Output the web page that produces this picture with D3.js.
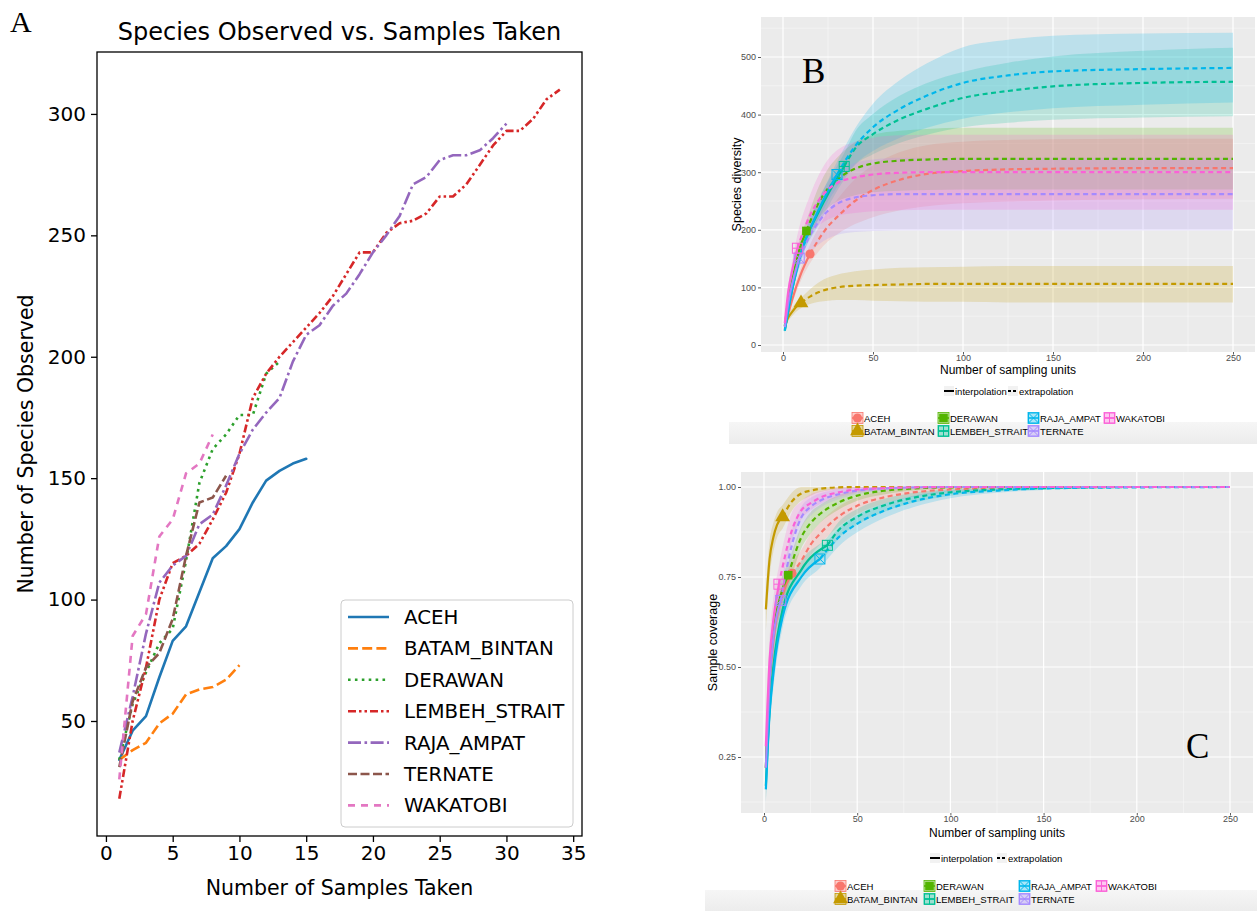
<!DOCTYPE html>
<html>
<head>
<meta charset="utf-8">
<script src="https://cdn.jsdelivr.net/npm/d3@7"></script>
<style>
  body { margin: 0; background: #fff; }
  svg { display: block; }
</style>
</head>
<body>
<svg id="fig" width="1257" height="911"></svg>
<script>
// ---------------- data ----------------
const sites = ['ACEH', 'BATAM_BINTAN', 'DERAWAN', 'LEMBEH_STRAIT', 'RAJA_AMPAT', 'TERNATE', 'WAKATOBI'];

// panel A: species observed after 1..k samples
const obsAceh = [34, 46, 52, 68, 83, 89, 103, 117, 122, 129, 140, 149, 153, 156, 158];
const obsBatam = [34, 38, 41, 49, 53, 61, 63, 64, 67, 73];
const obsDerawan = [34, 57, 70, 82, 88, 116, 148, 162, 168, 176, 176, 193, 198];
const obsLembeh = [18, 50, 72, 100, 115, 118, 123, 133, 144, 160, 183, 193, 200, 206, 212, 218, 225, 234, 243, 243,
                   251, 255, 256, 259, 266, 266, 271, 279, 287, 293, 293, 298, 306, 310];
const obsRaja = [37, 60, 86, 107, 114, 118, 131, 135, 147, 160, 170, 177, 183, 198, 209, 213, 221, 226, 234, 243,
                 250, 258, 271, 274, 281, 283, 283, 285, 290, 296];
const obsTernate = [31, 58, 72, 78, 92, 118, 140, 142, 151];
const obsWakatobi = [26, 85, 94, 126, 133, 152, 156, 168];
const observed = [obsAceh, obsBatam, obsDerawan, obsLembeh, obsRaja, obsTernate, obsWakatobi];
const xTicksA = [0, 5, 10, 15, 20, 25, 30, 35];
const yTicksA = [50, 100, 150, 200, 250, 300];

// panels B and C: reference sample size and the sampling units read per site
const refSize = [15, 10, 13, 34, 30, 9, 8];
const unitsX = [
  [1, 3, 5, 10, 15, 20, 25, 30, 40, 50, 65, 80, 100, 125, 150, 200, 250],
  [1, 3, 5, 7, 10, 15, 20, 25, 30, 40, 50, 65, 80, 100, 125, 150, 200, 250],
  [1, 3, 5, 9, 13, 20, 25, 30, 40, 50, 65, 80, 100, 125, 150, 200, 250],
  [1, 3, 5, 10, 20, 34, 40, 50, 65, 80, 100, 125, 150, 200, 250],
  [1, 3, 5, 10, 20, 30, 40, 50, 65, 80, 100, 125, 150, 200, 250],
  [1, 3, 5, 9, 15, 20, 25, 30, 40, 50, 65, 80, 100, 125, 150, 200, 250],
  [1, 3, 5, 8, 15, 20, 25, 30, 40, 50, 65, 80, 100, 125, 150, 200, 250]
];
// species diversity (B)
const divEst = [
  [28, 55, 78, 124, 158, 184, 206, 222, 250, 269, 287, 297, 302, 305, 306, 307, 307],
  [33, 48, 57, 65, 73, 84, 92, 97, 100, 103, 104, 105, 106, 106, 106, 106, 106, 106],
  [33, 80, 110, 165, 198, 248, 272, 287, 306, 315, 320, 322, 323, 323, 323, 323, 323],
  [25, 62, 95, 160, 232, 310, 341, 366, 392, 410, 429, 441, 449, 455, 457],
  [25, 62, 95, 158, 236, 296, 345, 378, 410, 433, 455, 468, 475, 479, 481],
  [31, 75, 105, 151, 190, 215, 233, 245, 256, 260, 262, 262, 262, 262, 262, 262, 262],
  [38, 95, 128, 168, 225, 252, 270, 281, 291, 296, 299, 300, 300, 300, 300, 300, 300]
];
const divLo = [
  [24, 48, 70, 112, 142, 163, 180, 192, 210, 222, 234, 241, 246, 249, 251, 253, 254],
  [29, 42, 50, 57, 64, 71, 75, 77, 78, 78, 77, 76, 75, 75, 74, 74, 74, 74],
  [29, 72, 99, 150, 180, 220, 238, 249, 260, 265, 268, 269, 270, 270, 270, 270, 270],
  [21, 55, 86, 147, 210, 287, 312, 331, 351, 365, 378, 386, 391, 395, 397],
  [21, 55, 86, 145, 220, 274, 314, 337, 360, 377, 393, 404, 411, 417, 421],
  [27, 67, 94, 133, 160, 175, 185, 191, 196, 198, 199, 199, 199, 199, 199, 199, 199],
  [33, 85, 113, 145, 190, 208, 218, 224, 229, 232, 234, 235, 235, 235, 235, 235, 235]
];
const divHi = [
  [32, 62, 86, 136, 174, 205, 232, 252, 288, 312, 335, 347, 353, 356, 357, 358, 358],
  [37, 54, 64, 73, 82, 97, 109, 117, 122, 128, 131, 134, 135, 136, 137, 137, 137, 137],
  [37, 88, 121, 180, 216, 276, 306, 325, 352, 365, 372, 375, 377, 377, 377, 377, 377],
  [29, 69, 104, 173, 254, 333, 370, 401, 433, 455, 474, 490, 501, 511, 516],
  [29, 69, 104, 171, 252, 318, 376, 419, 460, 489, 517, 530, 537, 541, 542],
  [35, 83, 116, 169, 220, 255, 281, 299, 316, 322, 325, 325, 325, 325, 325, 325, 325],
  [43, 105, 143, 191, 260, 296, 322, 338, 353, 360, 364, 365, 365, 365, 365, 365, 365]
];
// sample coverage (C)
const covEst = [
  [0.22, 0.45, 0.57, 0.70, 0.76, 0.795, 0.84, 0.87, 0.918, 0.948, 0.972, 0.985, 0.993, 0.997, 0.999, 1, 1],
  [0.66, 0.80, 0.86, 0.895, 0.917, 0.96, 0.982, 0.99, 0.995, 0.999, 1, 1, 1, 1, 1, 1, 1, 1],
  [0.22, 0.47, 0.59, 0.70, 0.755, 0.86, 0.90, 0.925, 0.957, 0.976, 0.99, 0.996, 0.999, 1, 1, 1, 1],
  [0.17, 0.38, 0.50, 0.66, 0.77, 0.838, 0.88, 0.917, 0.95, 0.97, 0.985, 0.993, 0.997, 1, 1],
  [0.16, 0.37, 0.48, 0.64, 0.75, 0.80, 0.86, 0.898, 0.935, 0.96, 0.98, 0.99, 0.996, 0.999, 1],
  [0.22, 0.46, 0.58, 0.685, 0.84, 0.915, 0.945, 0.962, 0.98, 0.99, 0.996, 0.999, 1, 1, 1, 1, 1],
  [0.28, 0.52, 0.63, 0.73, 0.88, 0.935, 0.955, 0.97, 0.985, 0.993, 0.997, 0.999, 1, 1, 1, 1, 1]
];
const covLo = [
  [0.17, 0.41, 0.53, 0.67, 0.73, 0.765, 0.81, 0.84, 0.89, 0.925, 0.955, 0.973, 0.986, 0.993, 0.997, 1, 1],
  [0.60, 0.75, 0.82, 0.86, 0.885, 0.935, 0.962, 0.976, 0.986, 0.994, 0.998, 1, 1, 1, 1, 1, 1, 1],
  [0.17, 0.42, 0.54, 0.66, 0.72, 0.83, 0.87, 0.90, 0.937, 0.962, 0.98, 0.99, 0.996, 0.999, 1, 1, 1],
  [0.13, 0.34, 0.46, 0.63, 0.745, 0.815, 0.857, 0.895, 0.932, 0.956, 0.976, 0.988, 0.994, 0.999, 1],
  [0.12, 0.33, 0.44, 0.61, 0.725, 0.775, 0.835, 0.874, 0.915, 0.944, 0.969, 0.984, 0.992, 0.998, 1],
  [0.16, 0.40, 0.52, 0.64, 0.80, 0.885, 0.92, 0.942, 0.966, 0.98, 0.99, 0.996, 0.999, 1, 1, 1, 1],
  [0.22, 0.46, 0.57, 0.68, 0.85, 0.91, 0.935, 0.952, 0.972, 0.984, 0.992, 0.997, 0.999, 1, 1, 1, 1]
];
const covHi = [
  [0.27, 0.49, 0.61, 0.73, 0.79, 0.825, 0.87, 0.90, 0.946, 0.971, 0.989, 0.997, 1, 1, 1, 1, 1],
  [0.72, 0.85, 0.90, 0.93, 0.95, 0.985, 1, 1, 1, 1, 1, 1, 1, 1, 1, 1, 1, 1],
  [0.27, 0.52, 0.64, 0.74, 0.79, 0.89, 0.93, 0.95, 0.977, 0.99, 1, 1, 1, 1, 1, 1, 1],
  [0.21, 0.42, 0.54, 0.69, 0.795, 0.861, 0.903, 0.939, 0.968, 0.984, 0.994, 0.998, 1, 1, 1],
  [0.20, 0.41, 0.52, 0.67, 0.775, 0.825, 0.885, 0.922, 0.955, 0.976, 0.991, 0.996, 1, 1, 1],
  [0.28, 0.52, 0.64, 0.73, 0.88, 0.945, 0.97, 0.982, 0.994, 1, 1, 1, 1, 1, 1, 1, 1],
  [0.34, 0.58, 0.69, 0.78, 0.93, 0.96, 0.98, 0.988, 0.998, 1, 1, 1, 1, 1, 1, 1, 1]
];
const xTicksGG = [0, 50, 100, 150, 200, 250];
const yTicksB = [0, 100, 200, 300, 400, 500];
const yTicksC = [0.25, 0.5, 0.75, 1.0];

// ---------------- styles ----------------
const colorsA = ['#1f77b4', '#ff7f0e', '#2ca02c', '#d62728', '#9467bd', '#8c564b', '#e377c2'];
const dashA = ['none', '10,4.2', '2.6,4.3', '8,3,2.5,3,2.5,3', '13,3.5,2.6,3.5', '9,3.5', '7,6'];
const colorsGG = ['#F8766D', '#C49A00', '#53B400', '#00C094', '#00B6EB', '#A58AFF', '#FB61D7'];
const fontA = 'DejaVu Sans, sans-serif';
const fontGG = 'Liberation Sans, Arial, sans-serif';

const svg = d3.select('#fig');

// ================= Panel A =================
const xA = d3.scaleLinear().domain([-0.67, 35.66]).range([97, 582]);
const yA = d3.scaleLinear().domain([2.64, 325.5]).range([836, 52]);

const gA = svg.append('g');

// lines
const lineA = d3.line().x((d, i) => xA(i + 1)).y(d => yA(d));
observed.forEach((vals, i) => {
  gA.append('path')
    .attr('d', lineA(vals))
    .attr('fill', 'none')
    .attr('stroke', colorsA[i])
    .attr('stroke-width', 2.6)
    .attr('stroke-dasharray', dashA[i])
    .attr('stroke-linejoin', 'round')
    .attr('stroke-linecap', i === 0 ? 'round' : 'butt');
});

// frame
gA.append('rect')
  .attr('x', 97).attr('y', 52).attr('width', 485).attr('height', 784)
  .attr('fill', 'none').attr('stroke', '#000').attr('stroke-width', 1.3);

const axA_x = gA.append('g')
  .attr('transform', 'translate(0,836)')
  .call(d3.axisBottom(xA).tickValues(xTicksA).tickSize(6).tickPadding(4));
const axA_y = gA.append('g')
  .attr('transform', 'translate(97,0)')
  .call(d3.axisLeft(yA).tickValues(yTicksA).tickSize(6).tickPadding(5));
[axA_x, axA_y].forEach(ax => {
  ax.select('.domain').remove();
  ax.selectAll('line').attr('stroke', '#000').attr('stroke-width', 1.3);
  ax.selectAll('text').attr('font-family', fontA).attr('font-size', 20).attr('fill', '#000');
});

gA.append('text').attr('x', 339.5).attr('y', 40).attr('text-anchor', 'middle')
  .attr('font-family', fontA).attr('font-size', 24).text('Species Observed vs. Samples Taken');
gA.append('text').attr('x', 339.5).attr('y', 895).attr('text-anchor', 'middle')
  .attr('font-family', fontA).attr('font-size', 20.5).text('Number of Samples Taken');
gA.append('text').attr('transform', 'translate(33,444) rotate(-90)').attr('text-anchor', 'middle')
  .attr('font-family', fontA).attr('font-size', 20.5).text('Number of Species Observed');
gA.append('text').attr('x', 10).attr('y', 32)
  .attr('font-family', 'Liberation Serif, Times New Roman, serif').attr('font-size', 30).text('A');

// legend
const legA = gA.append('g');
legA.append('rect').attr('x', 341).attr('y', 600).attr('width', 232).attr('height', 227)
  .attr('rx', 4).attr('fill', '#fff').attr('fill-opacity', 0.85)
  .attr('stroke', '#cccccc').attr('stroke-width', 1);
sites.forEach((s, i) => {
  const yy = 617 + i * 31.4;
  legA.append('line').attr('x1', 348).attr('x2', 389).attr('y1', yy).attr('y2', yy)
    .attr('stroke', colorsA[i]).attr('stroke-width', 2.6).attr('stroke-dasharray', dashA[i]);
  legA.append('text').attr('x', 404).attr('y', yy + 7)
    .attr('font-family', fontA).attr('font-size', 19.8).text(s);
});

// ================= Panels B and C (ggplot style) =================
function drawMarker(g, i, cx, cy, color) {
  const s = 5;
  const m = g.append('g').attr('transform', `translate(${cx},${cy})`);
  if (i === 0) m.append('circle').attr('r', 4.6).attr('fill', color);
  else if (i === 1) m.append('path').attr('d', d3.symbol(d3.symbolTriangle, 95)()).attr('fill', color);
  else if (i === 2) m.append('rect').attr('x', -4.3).attr('y', -4.3).attr('width', 8.6).attr('height', 8.6).attr('fill', color);
  else {
    m.append('rect').attr('x', -s).attr('y', -s).attr('width', 2 * s).attr('height', 2 * s)
      .attr('fill', 'none').attr('stroke', color).attr('stroke-width', 1);
    if (i === 3 || i === 6) {
      m.append('path').attr('d', `M${-s},0H${s}M0,${-s}V${s}`).attr('stroke', color).attr('stroke-width', 1);
    } else {
      m.append('path').attr('d', `M${-s},${-s}L${s},${s}M${-s},${s}L${s},${-s}`).attr('stroke', color).attr('stroke-width', 1);
    }
  }
}

function drawGG(p) {
  const g = svg.append('g');
  const x = d3.scaleLinear().domain([0, 250]).range(p.xRange);
  const y = d3.scaleLinear().domain(p.yDomain).range(p.yRange);

  g.append('rect').attr('x', p.left).attr('y', p.top)
    .attr('width', p.right - p.left).attr('height', p.bottom - p.top).attr('fill', '#EBEBEB');

  const clipId = 'clip' + p.id;
  g.append('clipPath').attr('id', clipId).append('rect')
    .attr('x', p.left).attr('y', p.top).attr('width', p.right - p.left).attr('height', p.bottom - p.top);

  const grid = g.append('g').attr('clip-path', `url(#${clipId})`);
  p.xMinor.forEach(v => grid.append('line').attr('x1', x(v)).attr('x2', x(v)).attr('y1', p.top).attr('y2', p.bottom)
    .attr('stroke', '#fff').attr('stroke-width', 0.6).attr('stroke-opacity', 0.7));
  p.yMinor.forEach(v => grid.append('line').attr('y1', y(v)).attr('y2', y(v)).attr('x1', p.left).attr('x2', p.right)
    .attr('stroke', '#fff').attr('stroke-width', 0.6).attr('stroke-opacity', 0.7));
  xTicksGG.forEach(v => grid.append('line').attr('x1', x(v)).attr('x2', x(v)).attr('y1', p.top).attr('y2', p.bottom)
    .attr('stroke', '#fff').attr('stroke-width', 1.2));
  p.yTicks.forEach(v => grid.append('line').attr('y1', y(v)).attr('y2', y(v)).attr('x1', p.left).attr('x2', p.right)
    .attr('stroke', '#fff').attr('stroke-width', 1.2));

  const plot = g.append('g').attr('clip-path', `url(#${clipId})`);
  const area = d3.area().curve(d3.curveMonotoneX);
  const line = d3.line().curve(d3.curveMonotoneX);

  // confidence bands
  sites.forEach((s, i) => {
    const xs = unitsX[i];
    const pts = xs.map((u, k) => [x(u), y(p.lo[i][k]), y(p.hi[i][k])]);
    plot.append('path')
      .attr('d', area.x(d => d[0]).y0(d => d[1]).y1(d => d[2])(pts))
      .attr('fill', colorsGG[i]).attr('fill-opacity', 0.2);
  });
  // interpolated (solid) and extrapolated (dashed) curves
  sites.forEach((s, i) => {
    const xs = unitsX[i];
    const pts = xs.map((u, k) => [x(u), y(p.est[i][k]), u]);
    const inter = pts.filter(d => d[2] <= refSize[i]);
    const extra = pts.filter(d => d[2] >= refSize[i]);
    plot.append('path').attr('d', line.x(d => d[0]).y(d => d[1])(inter))
      .attr('fill', 'none').attr('stroke', colorsGG[i]).attr('stroke-width', 2.2);
    plot.append('path').attr('d', line.x(d => d[0]).y(d => d[1])(extra))
      .attr('fill', 'none').attr('stroke', colorsGG[i]).attr('stroke-width', 2.2)
      .attr('stroke-dasharray', '5,3.5');
  });
  sites.forEach((s, i) => {
    const k = unitsX[i].indexOf(refSize[i]);
    drawMarker(plot, i, x(refSize[i]), y(p.est[i][k]), colorsGG[i]);
  });

  // axes
  const ax = g.append('g').attr('transform', `translate(0,${p.bottom})`)
    .call(d3.axisBottom(x).tickValues(xTicksGG).tickSize(2.5).tickPadding(0.5));
  const ay = g.append('g').attr('transform', `translate(${p.left},0)`)
    .call(d3.axisLeft(y).tickValues(p.yTicks).tickSize(3).tickPadding(2).tickFormat(p.yFormat));
  [ax, ay].forEach(a => {
    a.select('.domain').remove();
    a.selectAll('line').attr('stroke', '#333').attr('stroke-width', 0.8);
    a.selectAll('text').attr('font-family', fontGG).attr('font-size', 9).attr('fill', '#4D4D4D');
  });

  const cx = (p.left + p.right) / 2;
  g.append('text').attr('x', cx).attr('y', p.bottom + p.xTitleDy).attr('text-anchor', 'middle')
    .attr('font-family', fontGG).attr('font-size', 12).attr('fill', '#000').text('Number of sampling units');
  g.append('text').attr('transform', `translate(${p.yTitleX},${(p.top + p.bottom) / 2}) rotate(-90)`)
    .attr('text-anchor', 'middle').attr('font-family', fontGG).attr('font-size', 12.5).text(p.yTitle);

  // panel letter
  g.append('text').attr('x', p.letterX).attr('y', p.letterY)
    .attr('font-family', 'Liberation Serif, Times New Roman, serif').attr('font-size', 35).text(p.letter);

  // grey strip beneath legend
  const gradId = 'grad' + p.id;
  const grad = g.append('linearGradient').attr('id', gradId).attr('x1', 0).attr('x2', 0).attr('y1', 0).attr('y2', 1);
  grad.append('stop').attr('offset', 0).attr('stop-color', '#f6f6f6');
  grad.append('stop').attr('offset', 1).attr('stop-color', '#ececec');
  g.append('rect').attr('x', p.stripX).attr('y', p.stripY).attr('width', 1257 - p.stripX)
    .attr('height', p.stripH).attr('fill', `url(#${gradId})`);

  // linetype legend
  const lt = g.append('g');
  [['interpolation', 'none', p.ltKeys[0]], ['extrapolation', '3,2', p.ltKeys[1]]].forEach(([lab, dash, kx]) => {
    lt.append('rect').attr('x', kx).attr('y', p.ltY - 5).attr('width', 10).attr('height', 10).attr('fill', '#F2F2F2');
    lt.append('line').attr('x1', kx).attr('x2', kx + 10).attr('y1', p.ltY).attr('y2', p.ltY)
      .attr('stroke', '#000').attr('stroke-width', 2).attr('stroke-dasharray', dash);
    lt.append('text').attr('x', kx + 11).attr('y', p.ltY + 3.5).attr('font-family', fontGG)
      .attr('font-size', 9.5).text(lab);
  });

  // colour legend: 4 columns, 2 rows
  const lg = g.append('g');
  sites.forEach((s, i) => {
    const col = Math.floor(i / 2), row = i % 2;
    const kx = p.colX[col], ky = p.rowY[row];
    lg.append('rect').attr('x', kx).attr('y', ky - 5.5).attr('width', 11).attr('height', 11)
      .attr('fill', colorsGG[i]).attr('fill-opacity', 0.35)
      .attr('stroke', colorsGG[i]).attr('stroke-width', 0.8);
    lg.append('line').attr('x1', kx).attr('x2', kx + 11).attr('y1', ky).attr('y2', ky)
      .attr('stroke', colorsGG[i]).attr('stroke-width', 1.6);
    drawMarker(lg, i, kx + 5.5, ky, colorsGG[i]);
    lg.append('text').attr('x', kx + 12).attr('y', ky + 3.5).attr('font-family', fontGG)
      .attr('font-size', 9.5).text(s);
  });
}

// Panel B
drawGG({
  id: 'B',
  left: 761, right: 1255, top: 17, bottom: 352,
  xRange: [783, 1233], yDomain: [0, 500], yRange: [345, 57],
  yTicks: yTicksB, yFormat: d3.format('d'),
  xMinor: [25, 75, 125, 175, 225], yMinor: [50, 150, 250, 350, 450, 550],
  est: divEst, lo: divLo, hi: divHi,
  yTitle: 'Species diversity', yTitleX: 741, xTitleDy: 22,
  letter: 'B', letterX: 802, letterY: 83,
  ltY: 391, ltKeys: [944, 1008],
  colX: [852, 938, 1028, 1104], rowY: [418, 431],
  stripX: 729, stripY: 422, stripH: 22
});

// Panel C
drawGG({
  id: 'C',
  left: 741, right: 1253, top: 472, bottom: 813,
  xRange: [764, 1230], yDomain: [0.25, 1.0], yRange: [757, 487],
  yTicks: yTicksC, yFormat: d3.format('.2f'),
  xMinor: [25, 75, 125, 175, 225], yMinor: [0.125, 0.375, 0.625, 0.875],
  est: covEst, lo: covLo, hi: covHi,
  yTitle: 'Sample coverage', yTitleX: 717, xTitleDy: 24,
  letter: 'C', letterX: 1186, letterY: 758,
  ltY: 858, ltKeys: [930, 997],
  colX: [835, 924, 1019, 1096], rowY: [886, 899],
  stripX: 705, stripY: 890, stripH: 21
});
</script>
</body>
</html>
